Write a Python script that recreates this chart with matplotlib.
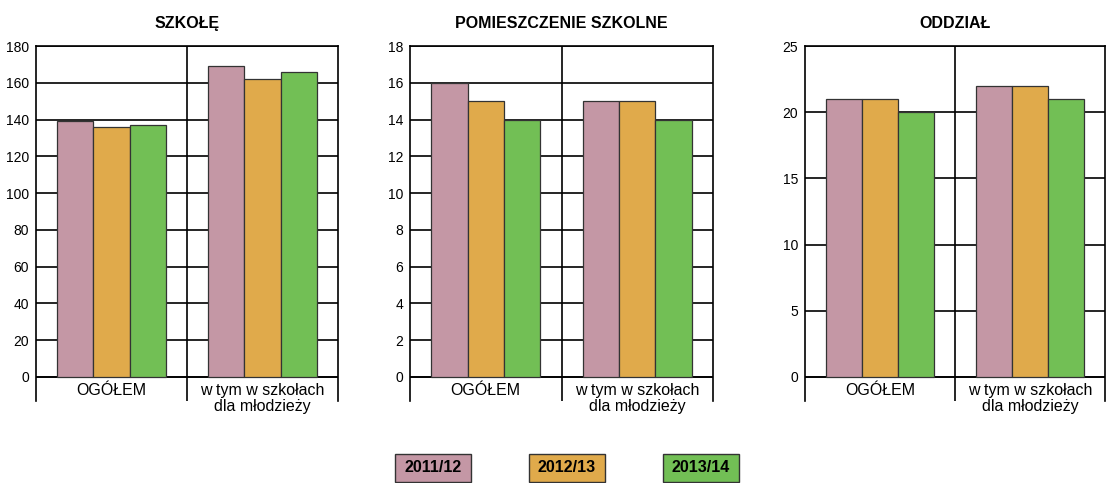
import matplotlib.pyplot as plt
from matplotlib.patches import Rectangle
import numpy as np

plt.rcParams['font.family'] = ['Liberation Sans', 'DejaVu Sans']

# Data
titles = ["SZKOŁĘ", "POMIESZCZENIE SZKOLNE", "ODDZIAŁ"]
categories = ["OGÓŁEM", "w tym w szkołach\ndla młodzieży"]
years = ["2011/12", "2012/13", "2013/14"]
colors = ["#C497A5", "#E0AA4B", "#72BF55"]

szkole = [[139, 169], [136, 162], [137, 166]]
pomieszczenie = [[16, 15], [15, 15], [14, 14]]
oddzial = [[21, 22], [21, 22], [20, 21]]
panel_data = [szkole, pomieszczenie, oddzial]

y_max = [180, 18, 25]
y_step = [20, 2, 5]

# Axes positions in pixels (left, right)
W, H = 1109, 483
panel_px = [(36, 338), (410, 713), (805, 1105)]
top_px, bottom_px = 46, 401
zero_px = 377

fig = plt.figure(figsize=(W / 100, H / 100), dpi=100)
fig.patch.set_facecolor("white")

x = np.arange(len(categories))
bw = 0.24
offsets = [-bw, 0, bw]

for p in range(3):
    l, r = panel_px[p]
    ax = fig.add_axes([l / W, 1 - bottom_px / H, (r - l) / W, (bottom_px - top_px) / H])
    top = y_max[p]
    below = top * (bottom_px - zero_px) / (zero_px - top_px)
    ax.set_ylim(-below, top)
    ax.set_xlim(-0.5, 1.5)
    ax.set_yticks(np.arange(0, top + 0.01, y_step[p]))
    ax.set_yticklabels([str(int(v)) for v in np.arange(0, top + 0.01, y_step[p])])
    ax.tick_params(axis="y", length=0, pad=5, labelsize=10)
    ax.set_xticks([])
    ax.yaxis.grid(True, color="black", linewidth=1.2)
    ax.set_axisbelow(True)
    for s in ["left", "right", "top"]:
        ax.spines[s].set_linewidth(1.2)
    ax.spines["bottom"].set_visible(False)
    ax.axhline(0, color="black", linewidth=1.2, zorder=1)
    ax.axvline(0.5, color="black", linewidth=1.2, zorder=1)

    for i in range(3):
        ax.bar(x + offsets[i], panel_data[p][i], width=bw, color=colors[i],
               edgecolor="#333333", linewidth=0.9, zorder=3)

    for j, cat in enumerate(categories):
        ax.annotate(cat, xy=(j, 0), xytext=(0, -4), textcoords="offset points",
                    ha="center", va="top", fontsize=11.5, linespacing=1.15)

    ax.set_title(titles[p], fontsize=11.5, fontweight="bold", pad=13)

# Legend boxes
legend_px = [395, 529, 663]
for i, yr in enumerate(years):
    lx = legend_px[i]
    rect = Rectangle((lx / W, 1 - 482 / H), 76 / W, 28 / H, transform=fig.transFigure,
                     facecolor=colors[i], edgecolor="#333333", linewidth=1.0)
    fig.patches.append(rect)
    fig.text((lx + 38) / W, 1 - 468 / H, yr, ha="center", va="center",
             fontsize=11.5, fontweight="bold")

fig.savefig("out.png", dpi=100, facecolor="white")
